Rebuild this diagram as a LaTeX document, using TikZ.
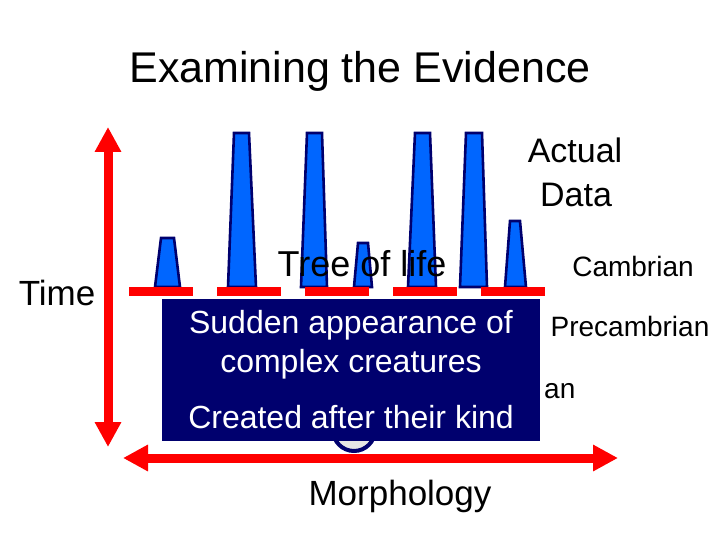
\documentclass[tikz,border=0pt]{standalone}
\usepackage{fontspec}
\setmainfont{Liberation Sans}
\usetikzlibrary{arrows.meta}
\definecolor{shapeblue}{RGB}{0,102,255}
\definecolor{navyline}{RGB}{0,0,110}
\definecolor{boxnavy}{RGB}{0,0,110}
\definecolor{pred}{RGB}{255,0,0}
\tikzset{
  txt/.style={anchor=base,inner sep=0pt,text=black},
  fossil/.style={fill=shapeblue,draw=navyline,line width=2.6pt,line join=miter},
  redbar/.style={fill=pred,draw=none},
  bigarrow/.style={draw=pred,line width=9pt,{Triangle[length=25pt,width=25pt]}-{Triangle[length=25pt,width=25pt]}},
  boxtxt/.style={anchor=base,inner sep=0pt,text=white,font=\fontsize{32}{38}\selectfont}
}
\begin{document}
\begin{tikzpicture}[x=1pt,y=-1pt]
\useasboundingbox (0,0) rectangle (720,540);
% title
\node[txt,font=\fontsize{43}{52}\selectfont] (title) at (360,83) {Examining the Evidence};
% fossil shapes
\draw[fossil] (155,287) -- (161,238) -- (174,238) -- (180,287) -- cycle;
\draw[fossil] (228,287) -- (234,133) -- (249,133) -- (256,287) -- cycle;
\draw[fossil] (301,287) -- (307,133) -- (322,133) -- (327,287) -- cycle;
\draw[fossil] (354,287) -- (358,243) -- (368,243) -- (372,287) -- cycle;
\draw[fossil] (408,287) -- (415,133) -- (430,133) -- (436,287) -- cycle;
\draw[fossil] (460,287) -- (466,133) -- (482,133) -- (487,287) -- cycle;
\draw[fossil] (505,287) -- (510,221) -- (520,221) -- (526,287) -- cycle;
% red bars
\foreach \x in {129,217,305,393,481}{
  \fill[redbar] (\x,287) rectangle ++(64,9);
}
% labels
\node[txt,font=\fontsize{34}{40}\selectfont] (actual) at (575,163) {Actual};
\node[txt,font=\fontsize{34}{40}\selectfont] (data) at (576,207) {Data};
\node[txt,font=\fontsize{28}{34}\selectfont] (cambrian) at (633,276) {Cambrian};
\node[txt,font=\fontsize{28}{34}\selectfont] (precambrian) at (630,336) {Precambrian};
\node[txt,anchor=base west,font=\fontsize{28}{34}\selectfont] (an) at (544,398) {an};
\node[txt,font=\fontsize{35}{42}\selectfont] (time) at (57,305) {Time};
\node[txt,font=\fontsize{36}{42}\selectfont] (tree) at (362,276) {Tree of life};
\node[txt,font=\fontsize{35}{42}\selectfont] (morph) at (400,505) {Morphology};
% hidden globe
\draw[navyline,line width=4pt,fill=gray!20] (354,430) circle (21);
% navy box
\fill[boxnavy] (162,299) rectangle (540,441);
\node[boxtxt] (l1) at (351,333) {Sudden appearance of};
\node[boxtxt] (l2) at (351,372) {complex creatures};
\node[boxtxt] (l3) at (351,428) {Created after their kind};
% arrows
\coordinate (vtop) at (108,127);
\coordinate (vbot) at (108,447);
\coordinate (hleft) at (123,458);
\coordinate (hright) at (618,458);
\draw[bigarrow] (vbot) -- (vtop);
\draw[bigarrow] (hleft) -- (hright);
\end{tikzpicture}
\end{document}
